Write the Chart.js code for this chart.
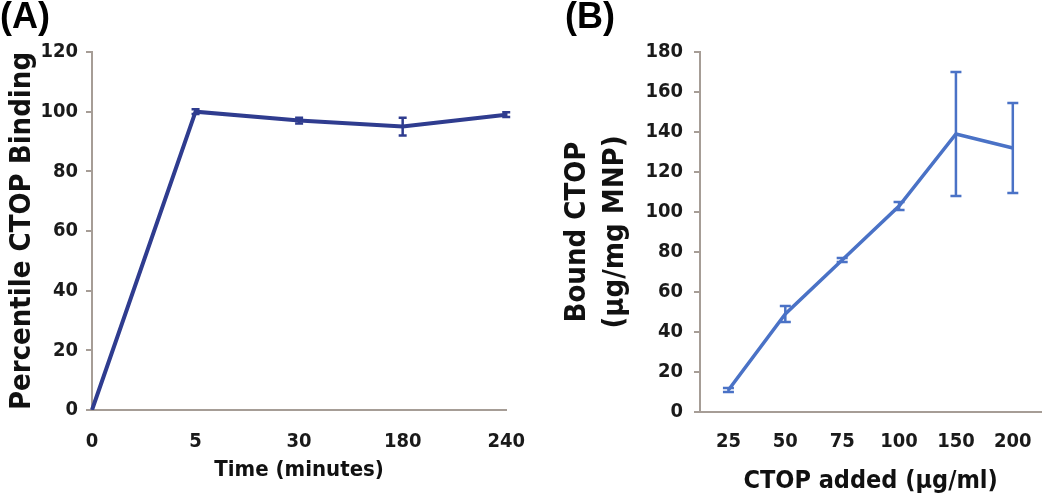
<!DOCTYPE html>
<html>
<head>
<meta charset="utf-8">
<script src="https://cdn.jsdelivr.net/npm/chart.js@4.4.1/dist/chart.umd.min.js"></script>
<style>
  html, body { margin: 0; padding: 0; background: #fff; }
  #wrap { position: relative; width: 1050px; height: 500px; overflow: hidden; }
  canvas { position: absolute; top: 0; }
  #chartA { left: 0; z-index: 1; }
  #chartB { left: 525px; z-index: 2; }
</style>
</head>
<body>
<div id="wrap">
  <canvas id="chartA" width="545" height="500"></canvas>
  <canvas id="chartB" width="525" height="500"></canvas>
</div>
<script>
// panel A: binding over time
const timeLabels = ['0', '5', '30', '180', '240'];
const bindingPct = [0, 100, 97, 95, 99];
const bindingErr = [0, 0.8, 1, 3, 0.8];

// panel B: bound vs added
const ctopAdded = ['25', '50', '75', '100', '150', '200'];
const boundCtop = [11, 49, 76, 103, 139, 132];
const boundErr = [1, 4, 1, 2, 31, 22.5];

const AXIS = '#a69d96';
const COND = "'DejaVu Sans Condensed', 'DejaVu Sans', sans-serif";
const TICK_FONT = { family: COND, weight: 'bold', size: 20 };

// draws the vertical error bars with caps
const errorBars = {
  id: 'errorBars',
  afterDatasetsDraw(chart) {
    const { ctx, scales: { y } } = chart;
    chart.data.datasets.forEach((ds, i) => {
      if (!ds.errors) return;
      const meta = chart.getDatasetMeta(i);
      const cap = ds.capWidth / 2;
      ctx.save();
      ctx.strokeStyle = ds.borderColor;
      ctx.lineWidth = ds.errorWidth;
      meta.data.forEach((pt, j) => {
        const e = ds.errors[j];
        if (!e) return;
        const top = y.getPixelForValue(ds.data[j] + e);
        const bot = y.getPixelForValue(ds.data[j] - e);
        ctx.beginPath();
        ctx.moveTo(pt.x, top); ctx.lineTo(pt.x, bot);
        ctx.moveTo(pt.x - cap, top); ctx.lineTo(pt.x + cap, top);
        ctx.moveTo(pt.x - cap, bot); ctx.lineTo(pt.x + cap, bot);
        ctx.stroke();
      });
      ctx.restore();
    });
  }
};

function panelTitle(text) {
  return {
    display: true,
    text: text,
    align: 'start',
    color: '#000',
    font: { family: "'Liberation Sans', Arial, sans-serif", weight: 'bold', size: 36, lineHeight: 1 },
    padding: { top: 0, bottom: 16 },
  };
}

new Chart(document.getElementById('chartA'), {
  type: 'line',
  data: {
    labels: timeLabels,
    datasets: [{
      data: bindingPct,
      errors: bindingErr,
      borderColor: '#2f3c8f',
      borderWidth: 4,
      pointRadius: 0,
      errorWidth: 2.5,
      capWidth: 8,
    }]
  },
  options: {
    responsive: false,
    devicePixelRatio: 1,
    animation: false,
    layout: { padding: { left: 0, right: 33, top: 0, bottom: 0 } },
    plugins: {
      legend: { display: false },
      tooltip: { enabled: false },
      title: panelTitle('(A)'),
    },
    scales: {
      x: {
        offset: false,
        grid: { display: false, drawTicks: false, tickLength: 0 },
        border: { display: true, color: AXIS, width: 2 },
        ticks: { color: '#1a1a1a', font: TICK_FONT, padding: 20, maxRotation: 0 },
        title: {
          display: true, text: 'Time (minutes)', color: '#111',
          font: { family: COND, weight: 'bold', size: 22 },
          padding: { top: 0, bottom: 17 },
        },
        afterFit(scale) { scale.height = 90; },
      },
      y: {
        min: 0, max: 120,
        grid: { display: true, drawOnChartArea: false, drawTicks: true, tickLength: 6, color: AXIS, lineWidth: 2 },
        border: { display: true, color: AXIS, width: 2 },
        ticks: { stepSize: 20, color: '#1a1a1a', font: TICK_FONT, padding: 8 },
        title: {
          display: true, text: 'Percentile CTOP Binding', color: '#111',
          font: { family: COND, weight: 'bold', size: 29 },
          padding: { top: 5, bottom: 0 },
        },
        afterFit(scale) { scale.width = 92; },
      }
    }
  },
  plugins: [errorBars]
});

new Chart(document.getElementById('chartB'), {
  type: 'line',
  data: {
    labels: ctopAdded,
    datasets: [{
      data: boundCtop,
      errors: boundErr,
      borderColor: '#4a72c6',
      borderWidth: 3.5,
      pointRadius: 0,
      errorWidth: 2.5,
      capWidth: 11,
    }]
  },
  options: {
    responsive: false,
    devicePixelRatio: 1,
    animation: false,
    layout: { padding: { left: 40, right: 5, top: 0, bottom: 0 } },
    plugins: {
      legend: { display: false },
      tooltip: { enabled: false },
      title: panelTitle('(B)'),
    },
    scales: {
      x: {
        offset: true,
        grid: { display: false, drawTicks: false, tickLength: 0 },
        border: { display: true, color: AXIS, width: 2 },
        ticks: { color: '#1a1a1a', font: TICK_FONT, padding: 18, maxRotation: 0 },
        title: {
          display: true, text: 'CTOP added (µg/ml)', color: '#111',
          font: { family: COND, weight: 'bold', size: 25 },
          padding: { top: 0, bottom: 4 },
        },
        afterFit(scale) { scale.height = 88; },
      },
      y: {
        min: 0, max: 180,
        grid: { display: true, drawOnChartArea: false, drawTicks: true, tickLength: 6, color: AXIS, lineWidth: 2 },
        border: { display: true, color: AXIS, width: 2 },
        ticks: { stepSize: 20, color: '#1a1a1a', font: TICK_FONT, padding: 11 },
        title: {
          display: true, text: ['Bound CTOP', '(µg/mg MNP)'], color: '#111',
          font: { family: COND, weight: 'bold', size: 29, lineHeight: '38px' },
          padding: { top: -7, bottom: 0 },
        },
        afterFit(scale) { scale.width = 135; },
      }
    }
  },
  plugins: [errorBars]
});
</script>
</body>
</html>
